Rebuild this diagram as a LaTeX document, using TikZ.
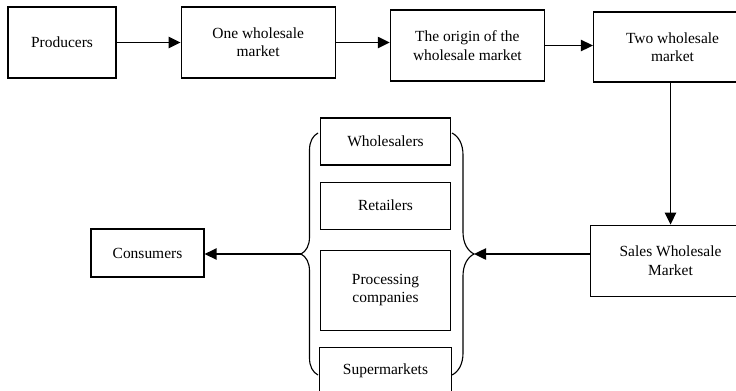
\documentclass[tikz,border=0pt]{standalone}
\usepackage{fontspec}
\setmainfont{Liberation Serif}
\usetikzlibrary{arrows.meta, positioning, decorations.pathreplacing}

\begin{document}
\begin{tikzpicture}[
    x=0.025cm, y=-0.025cm,
    every node/.style={font=\fontsize{11}{13}\selectfont},
    block/.style={rectangle, draw, line width=0.8pt, inner sep=2pt, align=center, minimum height=1.775cm},
    arrow/.style={-{Triangle[length=3mm, width=2.8mm]}, line width=1.3pt},
    curly/.style={decorate, decoration={brace, amplitude=#1}, line width=0.8pt}
]
\useasboundingbox (0,0) rectangle (736,390);

% top row
\node[block, minimum width=2.7cm] (prod) at (62,42.5) {Producers};
\node[block, minimum width=3.85cm, right=1.6cm of prod] (one) {One wholesale\\market};
\node[block, minimum width=3.85cm, right=1.35cm of one, yshift=-0.075cm] (origin) {The origin of the\\wholesale market};
\node[block, minimum width=3.95cm, minimum height=1.75cm, right=1.2cm of origin, yshift=-0.0375cm] (two) {Two wholesale\\market};
\node[block, minimum width=4cm, below=3.55cm of two, xshift=-0.05cm] (sales) {Sales Wholesale\\Market};

% buyers
\node[block, minimum width=3.25cm, minimum height=1.175cm] (whole) at (385.5,141.5) {Wholesalers};
\node[block, minimum width=3.25cm, minimum height=1.175cm, below=0.4cm of whole] (retail) {Retailers};
\node[block, minimum width=3.25cm, minimum height=2cm, below=0.5cm of retail] (proc) {Processing\\companies};
\node[block, minimum width=3.3cm, minimum height=1.175cm, below=0.4cm of proc] (super) {Supermarkets};
\node[block, minimum width=2.825cm, minimum height=1.2cm] (cons) at (147.5,253) {Consumers};

% braces
\coordinate (lbtop) at (318,133);
\coordinate (lbbot) at (318,375);
\coordinate (rbtop) at (452,133);
\coordinate (rbbot) at (452,375);
\coordinate (lbtip) at (301,254);
\coordinate (rbtip) at (474,254);
\draw[curly=0.425cm] (lbbot) -- (lbtop);
\draw[curly=0.55cm] (rbtop) -- (rbbot);

\draw[arrow] (prod.east) -- (prod.east -| one.west);
\draw[arrow] (one.east) -- (one.east -| origin.west);
\draw[arrow] (origin.east) -- (origin.east -| two.west);
\draw[arrow] (sales.north |- two.south) -- (sales.north);
\draw[arrow] (sales.west |- rbtip) -- (rbtip);
\draw[arrow] (lbtip) -- (cons.east |- lbtip);

\end{tikzpicture}
\end{document}
